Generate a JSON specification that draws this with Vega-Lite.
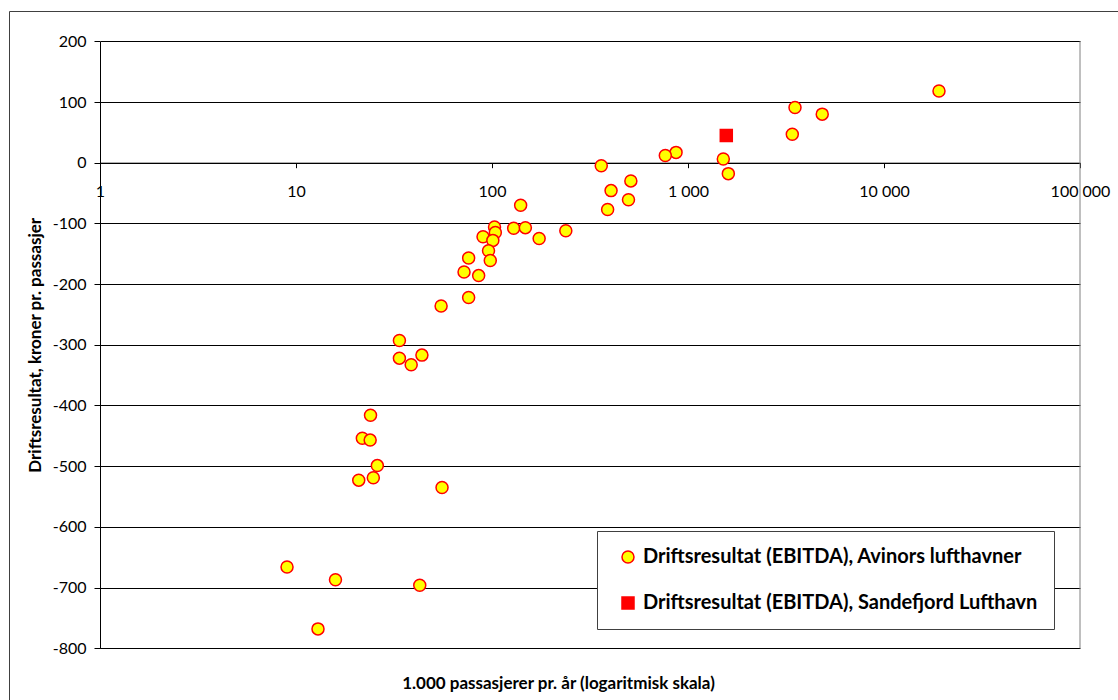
{
  "$schema": "https://vega.github.io/schema/vega-lite/v6.json",
  "autosize": {"type": "none"},
  "width": 1112,
  "height": 692,
  "padding": {"left": 9, "top": 11, "right": -3, "bottom": -3},
  "background": "#ffffff",
  "config": {
    "font": "Lato",
    "view": {"stroke": "#404040", "strokeWidth": 1, "fill": "#ffffff"},
    "legend": {
      "title": null,
      "orient": "none",
      "legendX": 588,
      "legendY": 520,
      "padding": 16,
      "strokeColor": "#404040",
      "fillColor": "#ffffff",
      "labelFont": "Lato",
      "labelFontSize": 20,
      "labelFontWeight": "bold",
      "labelColor": "#000000",
      "labelOffset": 5,
      "labelLimit": 700,
      "symbolSize": 144,
      "symbolStrokeWidth": 1.5,
      "symbolOffset": 5,
      "rowPadding": 26
    }
  },
  "datasets": {
    "points": [
      {"passengers": 19080, "result": 118, "series": "Driftsresultat (EBITDA), Avinors lufthavner"},
      {"passengers": 3515, "result": 91, "series": "Driftsresultat (EBITDA), Avinors lufthavner"},
      {"passengers": 4840, "result": 80, "series": "Driftsresultat (EBITDA), Avinors lufthavner"},
      {"passengers": 3405, "result": 47, "series": "Driftsresultat (EBITDA), Avinors lufthavner"},
      {"passengers": 1514, "result": 6, "series": "Driftsresultat (EBITDA), Avinors lufthavner"},
      {"passengers": 1606, "result": -18, "series": "Driftsresultat (EBITDA), Avinors lufthavner"},
      {"passengers": 869, "result": 17, "series": "Driftsresultat (EBITDA), Avinors lufthavner"},
      {"passengers": 766, "result": 12, "series": "Driftsresultat (EBITDA), Avinors lufthavner"},
      {"passengers": 361, "result": -5, "series": "Driftsresultat (EBITDA), Avinors lufthavner"},
      {"passengers": 511, "result": -30, "series": "Driftsresultat (EBITDA), Avinors lufthavner"},
      {"passengers": 405, "result": -46, "series": "Driftsresultat (EBITDA), Avinors lufthavner"},
      {"passengers": 497, "result": -61, "series": "Driftsresultat (EBITDA), Avinors lufthavner"},
      {"passengers": 389, "result": -77, "series": "Driftsresultat (EBITDA), Avinors lufthavner"},
      {"passengers": 140, "result": -70, "series": "Driftsresultat (EBITDA), Avinors lufthavner"},
      {"passengers": 103, "result": -106, "series": "Driftsresultat (EBITDA), Avinors lufthavner"},
      {"passengers": 129, "result": -108, "series": "Driftsresultat (EBITDA), Avinors lufthavner"},
      {"passengers": 148, "result": -107, "series": "Driftsresultat (EBITDA), Avinors lufthavner"},
      {"passengers": 104, "result": -115, "series": "Driftsresultat (EBITDA), Avinors lufthavner"},
      {"passengers": 174, "result": -125, "series": "Driftsresultat (EBITDA), Avinors lufthavner"},
      {"passengers": 238, "result": -112, "series": "Driftsresultat (EBITDA), Avinors lufthavner"},
      {"passengers": 90, "result": -122, "series": "Driftsresultat (EBITDA), Avinors lufthavner"},
      {"passengers": 101, "result": -128, "series": "Driftsresultat (EBITDA), Avinors lufthavner"},
      {"passengers": 96, "result": -145, "series": "Driftsresultat (EBITDA), Avinors lufthavner"},
      {"passengers": 98, "result": -161, "series": "Driftsresultat (EBITDA), Avinors lufthavner"},
      {"passengers": 76, "result": -157, "series": "Driftsresultat (EBITDA), Avinors lufthavner"},
      {"passengers": 72, "result": -180, "series": "Driftsresultat (EBITDA), Avinors lufthavner"},
      {"passengers": 85.5, "result": -186, "series": "Driftsresultat (EBITDA), Avinors lufthavner"},
      {"passengers": 76, "result": -222, "series": "Driftsresultat (EBITDA), Avinors lufthavner"},
      {"passengers": 55, "result": -236, "series": "Driftsresultat (EBITDA), Avinors lufthavner"},
      {"passengers": 33.7, "result": -293, "series": "Driftsresultat (EBITDA), Avinors lufthavner"},
      {"passengers": 33.7, "result": -322, "series": "Driftsresultat (EBITDA), Avinors lufthavner"},
      {"passengers": 43.9, "result": -317, "series": "Driftsresultat (EBITDA), Avinors lufthavner"},
      {"passengers": 38.7, "result": -333, "series": "Driftsresultat (EBITDA), Avinors lufthavner"},
      {"passengers": 24, "result": -416, "series": "Driftsresultat (EBITDA), Avinors lufthavner"},
      {"passengers": 21.8, "result": -454, "series": "Driftsresultat (EBITDA), Avinors lufthavner"},
      {"passengers": 23.9, "result": -457, "series": "Driftsresultat (EBITDA), Avinors lufthavner"},
      {"passengers": 26, "result": -499, "series": "Driftsresultat (EBITDA), Avinors lufthavner"},
      {"passengers": 20.9, "result": -523, "series": "Driftsresultat (EBITDA), Avinors lufthavner"},
      {"passengers": 24.8, "result": -519, "series": "Driftsresultat (EBITDA), Avinors lufthavner"},
      {"passengers": 55.6, "result": -535, "series": "Driftsresultat (EBITDA), Avinors lufthavner"},
      {"passengers": 9, "result": -666, "series": "Driftsresultat (EBITDA), Avinors lufthavner"},
      {"passengers": 15.9, "result": -687, "series": "Driftsresultat (EBITDA), Avinors lufthavner"},
      {"passengers": 42.8, "result": -696, "series": "Driftsresultat (EBITDA), Avinors lufthavner"},
      {"passengers": 12.95, "result": -768, "series": "Driftsresultat (EBITDA), Avinors lufthavner"},
      {"passengers": 1568, "result": 45, "series": "Driftsresultat (EBITDA), Sandefjord Lufthavn"}
    ],
    "frame": [
      {"passengers": 100000, "result": -800, "result2": 200}
    ]
  },
  "layer": [
    {
      "data": {"name": "points"},
      "mark": {"type": "point", "filled": true, "strokeWidth": 1.5, "size": 144, "opacity": 1},
      "encoding": {
        "x": {
          "field": "passengers",
          "type": "quantitative",
          "scale": {"type": "log", "domain": [1, 100000], "range": [91, 1071], "nice": false},
          "axis": {
            "orient": "bottom",
            "offset": -540.3,
            "values": [1, 10, 100, 1000, 10000, 100000],
            "labelExpr": "datum.value >= 100000 ? '100 000' : datum.value >= 10000 ? '10 000' : datum.value >= 1000 ? '1 000' : format(datum.value, 'd')",
            "grid": false,
            "domainColor": "#000000",
            "domainWidth": 1,
            "tickColor": "#000000",
            "tickSize": 5,
            "labelFont": "Lato",
            "labelFontSize": 16,
            "labelColor": "#000000",
            "labelPadding": 16,
            "labelFlush": false,
            "labelOverlap": false,
            "title": "1.000 passasjerer pr. år (logaritmisk skala)",
            "titleFont": "Lato",
            "titleFontSize": 17,
            "titleFontWeight": "bold",
            "titleColor": "#000000",
            "titleX": 549,
            "titleY": 520.3,
            "titleAlign": "center",
            "titleBaseline": "middle"
          }
        },
        "y": {
          "field": "result",
          "type": "quantitative",
          "scale": {"domain": [-800, 200], "range": [637.3, 30.3], "nice": false, "zero": false},
          "axis": {
            "orient": "left",
            "offset": -91,
            "values": [-800, -700, -600, -500, -400, -300, -200, -100, 0, 100, 200],
            "labelExpr": "'' + datum.value",
            "grid": true,
            "gridColor": "#000000",
            "gridWidth": 1,
            "domainColor": "#000000",
            "domainWidth": 1,
            "tickColor": "#000000",
            "tickSize": 6,
            "labelFont": "Lato",
            "labelFontSize": 16,
            "labelColor": "#000000",
            "labelPadding": 8,
            "labelOverlap": false,
            "title": "Driftsresultat, kroner pr. passasjer",
            "titleFont": "Lato",
            "titleFontSize": 17,
            "titleFontWeight": "bold",
            "titleColor": "#000000",
            "titleAngle": -90,
            "titleX": -65,
            "titleY": 333.8,
            "titleAlign": "center",
            "titleBaseline": "middle"
          }
        },
        "fill": {
          "field": "series",
          "type": "nominal",
          "scale": {
            "domain": ["Driftsresultat (EBITDA), Avinors lufthavner", "Driftsresultat (EBITDA), Sandefjord Lufthavn"],
            "range": ["#FFFF00", "#FF0000"]
          }
        },
        "stroke": {
          "field": "series",
          "type": "nominal",
          "scale": {
            "domain": ["Driftsresultat (EBITDA), Avinors lufthavner", "Driftsresultat (EBITDA), Sandefjord Lufthavn"],
            "range": ["#FF0000", "#FF0000"]
          }
        },
        "shape": {
          "field": "series",
          "type": "nominal",
          "scale": {
            "domain": ["Driftsresultat (EBITDA), Avinors lufthavner", "Driftsresultat (EBITDA), Sandefjord Lufthavn"],
            "range": ["circle", "square"]
          }
        }
      }
    },
    {
      "data": {"name": "frame"},
      "mark": {"type": "rule", "color": "#808080", "strokeWidth": 1},
      "encoding": {
        "x": {"field": "passengers", "type": "quantitative", "scale": {"type": "log"}},
        "y": {"field": "result", "type": "quantitative"},
        "y2": {"field": "result2"}
      }
    }
  ]
}
